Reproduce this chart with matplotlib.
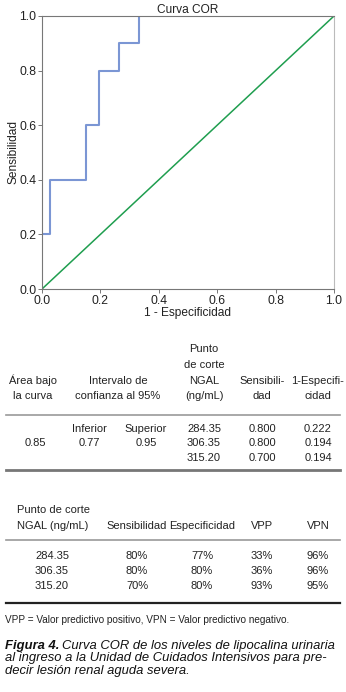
import matplotlib
matplotlib.use("Agg")
import matplotlib.pyplot as plt
from matplotlib.lines import Line2D

# Datos de la curva COR
fpr = [0.0, 0.026, 0.151, 0.194, 0.263, 0.333]
tpr = [0.2, 0.4, 0.6, 0.8, 0.9, 1.0]
diag = [0.0, 1.0]
ticks = [0.0, 0.2, 0.4, 0.6, 0.8, 1.0]

# Tabla 1
t1_headers = [["Área bajo", "la curva"], ["Intervalo de", "confianza al 95%"],
              ["Punto", "de corte", "NGAL", "(ng/mL)"], ["Sensibili-", "dad"],
              ["1-Especifi-", "cidad"]]
area = "0.85"
ic_labels = ["Inferior", "Superior"]
ic_values = ["0.77", "0.95"]
cortes = ["284.35", "306.35", "315.20"]
sens1 = ["0.800", "0.800", "0.700"]
fpr1 = ["0.222", "0.194", "0.194"]

# Tabla 2
t2_headers = ["Sensibilidad", "Especificidad", "VPP", "VPN"]
sens2 = ["80%", "80%", "70%"]
esp2 = ["77%", "80%", "80%"]
vpp = ["33%", "36%", "93%"]
vpn = ["96%", "96%", "95%"]

nota = "VPP = Valor predictivo positivo, VPN = Valor predictivo negativo."
caption = ["Curva COR de los niveles de lipocalina urinaria",
           "al ingreso a la Unidad de Cuidados Intensivos para pre-",
           "decir lesión renal aguda severa."]

W, H = 346, 692
fig = plt.figure(figsize=(W / 100, H / 100), dpi=100)
SANS = "Liberation Sans"


def P(x, y):
    return x / W, 1 - y / H


def txt(x, y, s, **kw):
    kw.setdefault("family", SANS)
    kw.setdefault("fontsize", 8)
    kw.setdefault("color", "#222222")
    return fig.text(*P(x, y), s, **kw)


def hline(x0, x1, y, lw, color):
    (a, b), (c, d) = P(x0, y), P(x1, y)
    fig.add_artist(Line2D([a, c], [b, d], lw=lw, color=color))


# Gráfico
ax = fig.add_axes([42 / W, 1 - 289 / H, 292 / W, 273 / H])
ax.plot(fpr, tpr, drawstyle="steps-post", color="#7b96d4", lw=1.5)
ax.plot(diag, diag, color="#1f9e4f", lw=1.1)
ax.set_xlim(0, 1)
ax.set_ylim(0, 1)
ax.set_xticks(ticks)
ax.set_yticks(ticks)
ax.set_xticklabels([f"{t:.1f}" for t in ticks])
ax.set_yticklabels([f"{t:.1f}" for t in ticks])
for s in ax.spines.values():
    s.set_color("#777777")
    s.set_linewidth(0.8)
ax.spines["right"].set_color("#bbbbbb")
ax.tick_params(length=3, width=0.7, color="#777777", labelsize=8.8, pad=1,
               labelcolor="#222222")
for lab in ax.get_xticklabels() + ax.get_yticklabels():
    lab.set_family(SANS)
ax.set_title("Curva COR", fontsize=8.6, family=SANS, pad=1.5, color="#222222")
ax.set_xlabel("1 - Especificidad", fontsize=8.6, family=SANS, labelpad=0,
              color="#222222")
ax.set_ylabel("Sensibilidad", fontsize=8.6, family=SANS, labelpad=0,
              color="#222222")

# Tabla 1
t1_x = [33, 118, 204, 262, 318]
for x, lines in zip(t1_x, t1_headers):
    y0 = 396 - 15.5 * (len(lines) - 1)
    for j, s in enumerate(lines):
        txt(x, y0 + 15.5 * j, s, ha="center", va="center")
hline(6, 340, 415, 1.2, "#999999")
txt(35, 443, area, ha="center", va="center")
for x, a, b in zip([89, 146], ic_labels, ic_values):
    txt(x, 429, a, ha="center", va="center")
    txt(x, 443, b, ha="center", va="center")
for i, (c, s, f) in enumerate(zip(cortes, sens1, fpr1)):
    y = 429 + i * 14.5
    txt(204, y, c, ha="center", va="center")
    txt(262, y, s, ha="center", va="center")
    txt(318, y, f, ha="center", va="center")
hline(6, 340, 470, 2.0, "#777777")

# Tabla 2
txt(17, 510, "Punto de corte", ha="left", va="center")
txt(17, 526, "NGAL (ng/mL)", ha="left", va="center")
for x, s in zip([137, 202, 262, 318], t2_headers):
    txt(x, 526, s, ha="center", va="center")
hline(6, 340, 540, 1.2, "#999999")
for i, row in enumerate(zip(cortes, sens2, esp2, vpp, vpn)):
    y = 556 + i * 15
    for x, s in zip([52, 137, 202, 262, 318], row):
        txt(x, y, s, ha="center", va="center")
hline(6, 340, 603, 1.6, "#222222")

txt(5, 620, nota, ha="left", va="center", fontsize=7.2)

# Leyenda de la figura
cap_kw = dict(va="center", ha="left", fontsize=9.4, style="italic", color="#111111")
fig_lbl = txt(5, 646, "Figura 4.", weight="bold", **cap_kw)
fig.canvas.draw()
bb = fig_lbl.get_window_extent()
txt(bb.x1 + 3, 646, caption[0], **cap_kw)
for i, s in enumerate(caption[1:]):
    txt(5, 658.5 + i * 12.5, s, **cap_kw)

fig.savefig("out.png", dpi=100)
